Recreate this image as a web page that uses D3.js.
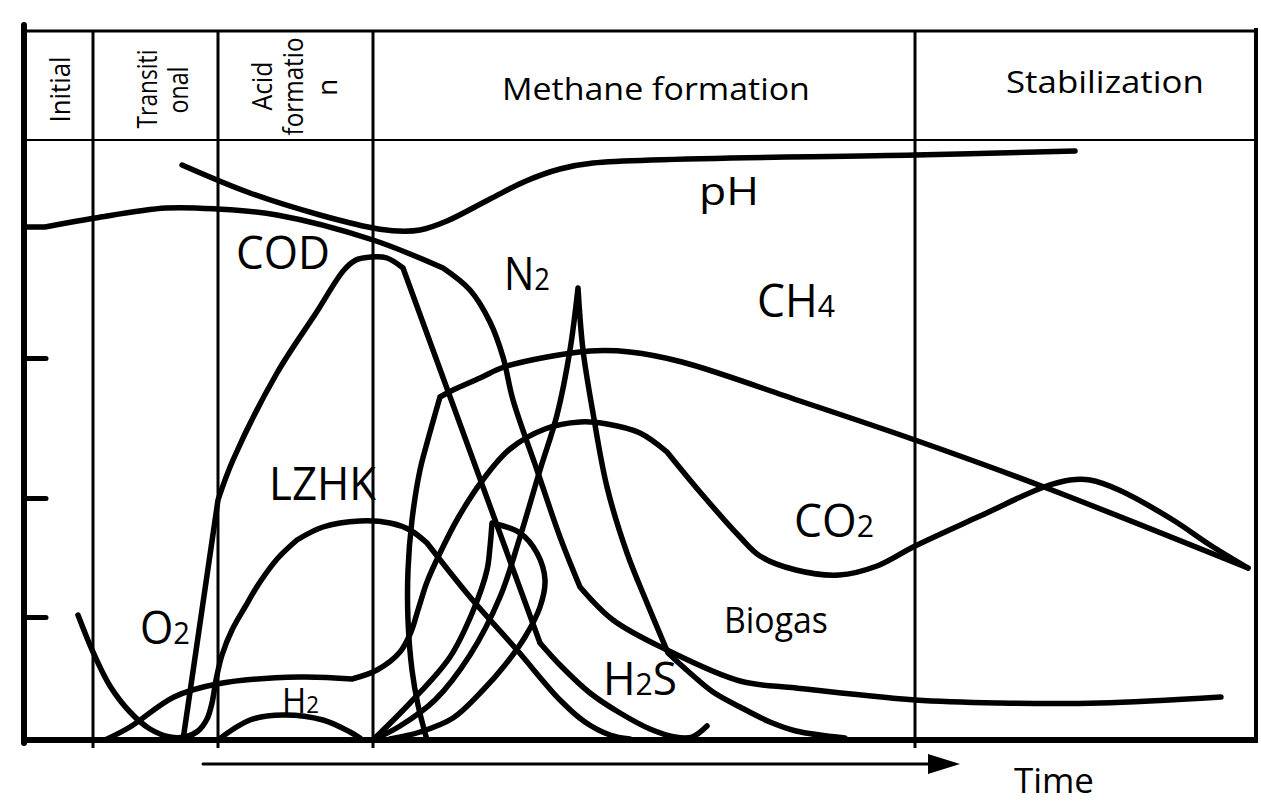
<!DOCTYPE html>
<html><head><meta charset="utf-8">
<script src="https://cdn.jsdelivr.net/npm/d3@7"></script>
<style>
html,body{margin:0;padding:0;background:#fff;}
svg{display:block;}
text{font-family:"Open Sans",sans-serif;fill:#000;}
</style></head><body>
<svg id="chart" width="1261" height="807"></svg>
<script>
// ---------------- data (time units on x, relative level on y) ----------------
const phaseNames = [["Initial"], ["Transiti", "onal"], ["Acid", "formatio", "n"], ["Methane formation"], ["Stabilization"]];
const phaseBounds = [0, 6.9, 19.4, 34.9, 89.1, 123.1];
const yTicks = [12.3, 24.2, 38.2];
const arrowSpan = [17.9, 93.6];
const axisTitle = "Time";

// each curve: list of smooth segments, each a list of [time, level]
const curvePH = [[[15.8,57.5],[22.6,54.7],[29.6,52.5],[34.9,51.2],[37.4,50.9],[39.6,51.0],[42.3,51.9],[46.6,54.1],[50.2,55.9],[53.6,57.1],[56.9,57.7],[89.1,58.5],[105.1,58.9]]];
const curveCOD = [
  [[0,51.3],[2.1,51.3]],
  [[2.1,51.3],[7.1,52.2],[14.2,53.2],[19.3,53.1],[25.3,52.5],[34.9,50.0],[41.9,47.2]],
  [[41.9,47.2],[44.6,45.0],[46.6,41.8],[47.9,38.3],[48.9,34.0],[51.3,27.0],[53.6,20.3],[55.6,15.3]],
  [[55.6,15.3],[58.9,12.0],[64.3,9.0],[71.6,5.9],[77.2,5.2],[89.1,4.0],[97.6,3.7],[107.6,3.7],[119.7,4.3]]
];
const curvePeak = [
  [[15.9,0],[19.4,24.0]],
  [[19.4,24.0],[20.9,28.0],[25.3,36.7],[29.2,42.7],[32.0,47.0],[33.2,48.0],[34.7,48.3],[36.3,48.2],[37.9,47.2]],
  [[37.9,47.2],[51.6,9.7]],
  [[51.6,9.7],[53.6,7.5],[56.6,4.7],[59.6,2.7],[62.6,1.1],[65.1,0.3],[66.8,0.3],[68.3,1.4]]
];
const curveO2 = [
  [[5.4,12.5],[6.9,8.8],[8.6,5.4],[10.6,2.8],[12.6,1.1],[14.6,0.3],[16.1,0.3],[17.4,0.9],[18.3,2.1],[18.8,3.7],[19.2,6.0],[19.8,8.5],[20.8,11.0],[22.1,13.3],[23.6,15.8],[25.4,18.2],[27.3,20.0]],
  [[27.3,20.0],[29.9,21.3],[33.6,21.9],[36.6,21.7],[38.6,21.0],[40.3,19.7]],
  [[40.3,19.7],[44.6,14.3],[49.3,9.0],[53.6,4.0],[56.1,1.8],[58.6,0.5],[60.6,0.1]]
];
const curveH2 = [[[19.4,0],[22.6,2.0],[25.9,2.5],[29.9,2.0],[32.6,0.8],[33.6,0.2]]];
const curveCO2 = [
  [[8.1,0],[10.6,1.3],[15.0,4.3],[19.3,5.6],[27.6,6.3],[32.8,6.1]],
  [[32.8,6.1],[35.3,7.0],[37.6,8.8],[38.7,10.8],[39.4,13.0],[40.3,15.8],[41.6,18.7],[43.4,22.2],[45.8,25.9],[48.6,29.1],[52.1,31.1],[55.6,31.8],[58.3,31.6],[61.6,30.7],[64.3,28.8]],
  [[64.3,28.8],[67.6,24.8],[71.6,20.3],[73.6,18.4],[77.2,17.0],[81.5,16.5],[85.3,17.4],[89.1,19.4],[95.6,22.4],[102.0,25.3],[104.6,26.0],[106.6,26.0],[109.5,25.0],[114.9,22.0],[118.6,19.5],[122.4,17.2]]
];
const curveCH4 = [
  [[40.3,0],[39.4,3.5],[38.8,7.0],[38.4,12.0],[38.4,17.0],[38.8,22.0],[39.6,27.0],[40.3,29.7],[41.6,34.3]],
  [[41.6,34.3],[42.9,35.0],[45.6,36.2],[48.0,37.3],[52.3,38.3],[56.6,38.9],[60.6,38.8],[65.8,37.8],[77.6,33.9],[89.1,30.0],[102.0,25.3],[122.4,17.2]]
];
const curveN2 = [
  [[34.9,0],[37.6,1.4],[41.1,4.0],[44.6,8.5],[47.6,14.3],[49.6,20.3],[51.6,27.0],[53.3,32.5],[54.6,39.0],[55.4,45.2]],
  [[55.4,45.2],[55.9,39.0],[56.9,32.7],[58.3,25.3],[60.3,18.7],[62.3,13.7],[64.4,8.7]],
  [[64.4,8.7],[66.6,6.7],[68.9,4.8],[71.6,3.3],[74.6,1.8],[77.2,0.9],[82.1,0.2]]
];
const curveH2S = [
  [[34.9,0],[38.6,3.7],[42.6,8.3],[44.9,12.9],[46.3,17.0],[46.6,19.3],[46.8,21.7]],
  [[46.8,21.7],[49.6,20.7],[51.3,18.7],[52.1,16.0],[51.6,13.3],[50.1,10.3],[48.1,7.5],[45.9,5.0],[42.9,2.2],[39.6,0.8],[36.6,0.1]]
];
const curves = [curvePH, curveCOD, curvePeak, curveO2, curveH2, curveCO2, curveCH4, curveN2, curveH2S];

// curve labels and their anchor (time, level)
const labelNames = ["pH", "COD", "N2", "CH4", "LZHK", "CO2", "O2", "Biogas", "H2", "H2S"];
const labelT = [67.5, 21.2, 48.0, 73.3, 24.5, 77.0, 11.6, 70.0, 25.8, 57.9];
const labelV = [53.5, 47.1, 45.0, 42.3, 24.0, 20.3, 9.6, 10.7, 2.7, 4.5];

// ---------------- layout / style ----------------
const labelFont = [39, 45, 45, 45, 46, 46, 46, 36, 35, 46];
const labelWidth = [60, 94, 46, 78, 108, 80, 50, 104, 37, 74];
const vertLayout = [
  [{bx: 70, cy: 89.5, len: 66}],
  [{bx: 157, cy: 89, len: 79}, {bx: 188, cy: 90, len: 47}],
  [{bx: 272, cy: 86, len: 49}, {bx: 303, cy: 86.5, len: 98}, {bx: 337, cy: 87.5, len: 0}]
];
const horizLayout = {3: {x: 502, base: 100, fs: 31, w: 308}, 4: {x: 1006, base: 93, fs: 31, w: 198}};

const svg = d3.select("#chart");
const x = d3.scaleLinear().domain([0, 123.1]).range([24, 1255]);
const y = d3.scaleLinear().domain([0, 60]).range([740, 140]);
const frameTop = 31;
const line = d3.line().x(d => x(d[0])).y(d => y(d[1])).curve(d3.curveCatmullRom.alpha(0.5));

function hline(x1, x2, yy, w) {
  svg.append("line").attr("x1", x1).attr("x2", x2).attr("y1", yy).attr("y2", yy)
    .attr("stroke", "#000").attr("stroke-width", w);
}
function vline(xx, y1, y2, w, cap) {
  svg.append("line").attr("x1", xx).attr("x2", xx).attr("y1", y1).attr("y2", y2)
    .attr("stroke", "#000").attr("stroke-width", w).attr("stroke-linecap", cap || "butt");
}

// frame
hline(x(0), x(123.1) + 2, frameTop, 3);
hline(x(0), x(123.1), y(60), 2);
phaseBounds.slice(1, -1).forEach(b => vline(x(b), frameTop, y(0) + 8, 3));
vline(x(123.1) + 1, 28, y(0), 4);

// y ticks (inward)
const yAxis = svg.append("g").attr("transform", `translate(${x(0)},0)`)
  .call(d3.axisRight(y).tickValues(yTicks).tickSize(22).tickFormat(""));
yAxis.select(".domain").remove();
yAxis.selectAll(".tick line").attr("stroke", "#000").attr("stroke-width", 5).attr("stroke-linecap", "round");

// axes lines
hline(x(0) - 2, x(123.1) + 3, y(0), 6);
vline(x(0), 25, y(0) + 3, 6, "round");

// curves
svg.append("g").selectAll("path").data(curves).join("path")
  .attr("d", c => c.map(seg => line(seg)).join(""))
  .attr("fill", "none").attr("stroke", "#000").attr("stroke-width", 5.5)
  .attr("stroke-linecap", "round").attr("stroke-linejoin", "round");

// time arrow
const ay = y(0) + 24;
svg.append("line").attr("x1", x(arrowSpan[0])).attr("x2", x(arrowSpan[1]) - 28)
  .attr("y1", ay).attr("y2", ay).attr("stroke", "#000").attr("stroke-width", 3).attr("stroke-linecap", "round");
const tip = x(arrowSpan[1]);
svg.append("path").attr("d", `M${tip},${ay}L${tip - 32},${ay - 10}L${tip - 32},${ay + 10}Z`).attr("fill", "#000");

// text helpers
function fitLabel(str, fs, targetW, px, py, subRatio) {
  const t = svg.append("text").attr("font-size", fs);
  str.split(/(\d)/).filter(s => s.length).forEach(s => {
    const sub = /^\d$/.test(s);
    t.append("tspan").attr("font-size", sub ? fs * subRatio : fs).text(s);
  });
  const bb = t.node().getBBox();
  const sx = targetW > 0 ? targetW / bb.width : 1;
  t.attr("transform", `translate(${px - bb.x * sx},${py}) scale(${sx},1)`);
  return t;
}

labelNames.forEach((name, i) => {
  fitLabel(name, labelFont[i], labelWidth[i], x(labelT[i]), y(labelV[i]), 0.68);
});
fitLabel(axisTitle, 35, 80, 1014, 793, 0.68);

// phase header labels
phaseNames.forEach((lines, i) => {
  if (horizLayout[i]) {
    const L = horizLayout[i];
    fitLabel(lines[0], L.fs, L.w, L.x, L.base, 1);
  } else {
    lines.forEach((s, j) => {
      const L = vertLayout[i][j];
      const t = svg.append("text").attr("font-size", 28).attr("text-anchor", "middle").text(s);
      const w = t.node().getBBox().width;
      const sx = L.len > 0 ? L.len / w : 1;
      t.attr("transform", `translate(${L.bx},${L.cy}) rotate(-90) scale(${sx},1)`);
    });
  }
});
</script></body></html>
